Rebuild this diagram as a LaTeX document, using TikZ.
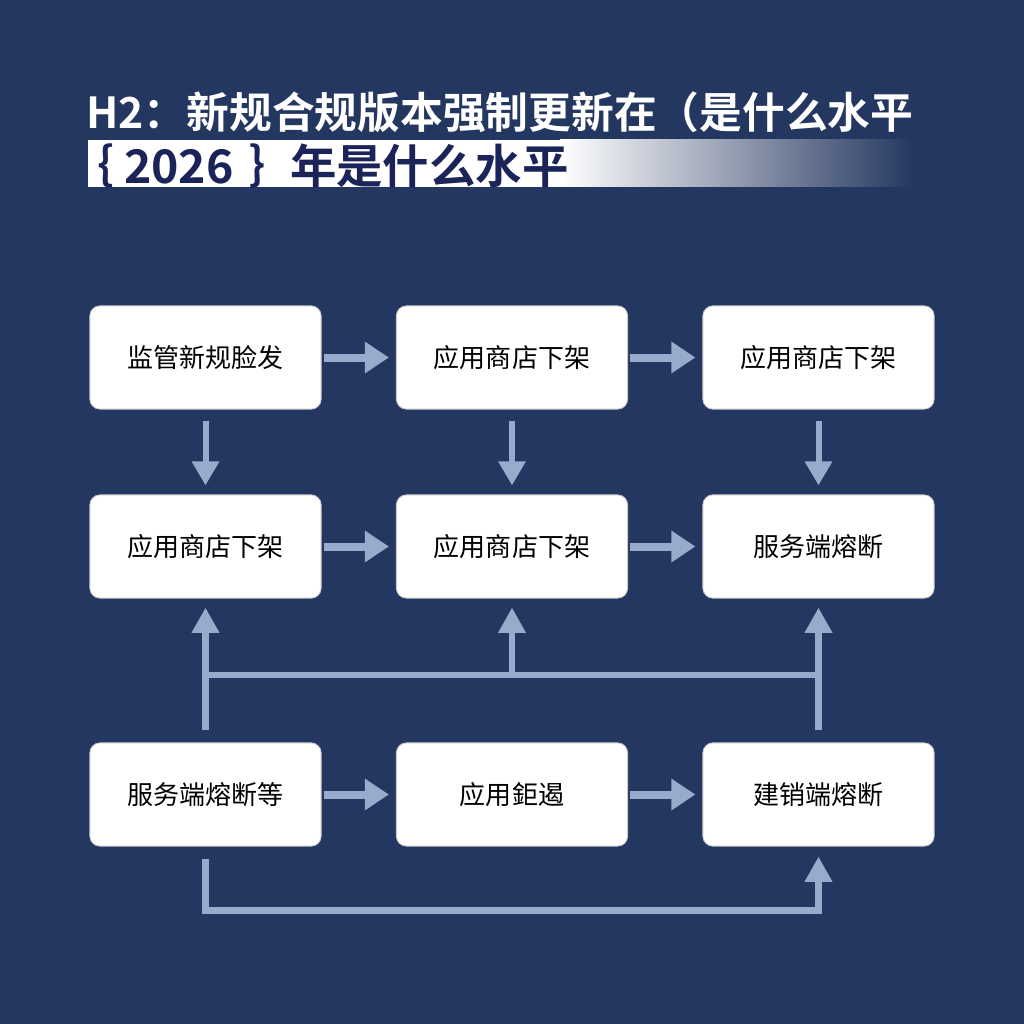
\documentclass[tikz,border=0pt]{standalone}
\usepackage{fontspec}
\newfontfamily\cjk[BoldFont={Noto Sans CJK SC Bold}]{Noto Sans CJK SC}
\usetikzlibrary{arrows.meta,calc,positioning}
\definecolor{bgcolor}{RGB}{36, 55, 96}
\definecolor{arrowcolor}{RGB}{152, 171, 204}
\definecolor{titlecolor}{RGB}{26, 36, 88}

\begin{document}
\begin{tikzpicture}[x=0.025cm, y=-0.025cm,
                box/.style={rectangle, rounded corners=0.25cm, fill=white, draw=gray!45, line width=0.6pt,
                            minimum width=5.78cm, minimum height=2.58cm, inner sep=0pt,
                            font=\cjk\fontsize{18.5}{20}\selectfont},
                harrow/.style={-{Triangle[width=0.75cm, length=0.6cm]}, arrowcolor, line width=0.2cm,
                               shorten <=0.05cm, shorten >=0.175cm},
                varrow/.style={-{Triangle[width=0.65cm, length=0.6cm]}, arrowcolor, line width=0.15cm,
                               shorten <=0.275cm, shorten >=0.225cm},
                uarrow/.style={-{Triangle[width=0.65cm, length=0.63cm]}, arrowcolor, line width=0.16cm},
                uline/.style={arrowcolor, line width=0.16cm}]

                % Background
                \fill[bgcolor] (0,0) rectangle (1024,1024);
                \useasboundingbox (0,0) rectangle (1024,1024);

                % Title
                \fill[white] (88,140) rectangle (561,187);
                \shade[left color=white, right color=bgcolor] (560,140) rectangle (915,187);
                \node[anchor=west, inner sep=0pt, text=white, font=\cjk\bfseries\fontsize{30.4}{32}\selectfont]
                    (title1) at (86,112) {H2：新规合规版本强制更新在（是什么水平};
                \node[anchor=west, inner sep=0pt, text=titlecolor, font=\cjk\bfseries\fontsize{33}{34}\selectfont]
                    (title2) at (67,166) {｛ 2026\hspace{0.4cm}｝\hspace{-0.15cm}年是什么水平};

                % Row 1
                \node[box] (a1) at (205.5,357.5) {监管新规脸发};
                \node[box] (a2) at (512,357.5) {应用商店下架};
                \node[box] (a3) at (818.5,357.5) {应用商店下架};

                % Row 2
                \node[box] (b1) at (205.5,546.5) {应用商店下架};
                \node[box] (b2) at (512,546.5) {应用商店下架};
                \node[box] (b3) at (818.5,546.5) {服务端熔断};

                % Row 3
                \node[box] (c1) at (205.5,794.5) {服务端熔断等};
                \node[box] (c2) at (512,794.5) {应用鉅遏};
                \node[box] (c3) at (818.5,794.5) {建销端熔断};

                % Connections
                \foreach \r in {a,b,c} {
                    \draw[harrow] (\r1) -- (\r2);
                    \draw[harrow] (\r2) -- (\r3);
                }
                \foreach \i in {1,2,3} {
                    \draw[varrow] (a\i) -- (b\i);
                }

                % Merge from row 3
                \coordinate (bar) at (512,675);
                \draw[uarrow, shorten <=0.3cm, shorten >=0.225cm] (c1.north) -- (b1.south);
                \draw[uarrow, shorten <=0.3cm, shorten >=0.225cm] (c3.north) -- (b3.south);
                \draw[uline] (c1.north |- bar) -- (c3.north |- bar);
                \draw[uarrow, shorten >=0.225cm] (bar) -- (b2.south);

                % Loop back
                \draw[uarrow, shorten <=0.3cm, shorten >=0.25cm] (c1.south) -- ++(0,64) -| (c3.south);

            \end{tikzpicture}
\end{document}
